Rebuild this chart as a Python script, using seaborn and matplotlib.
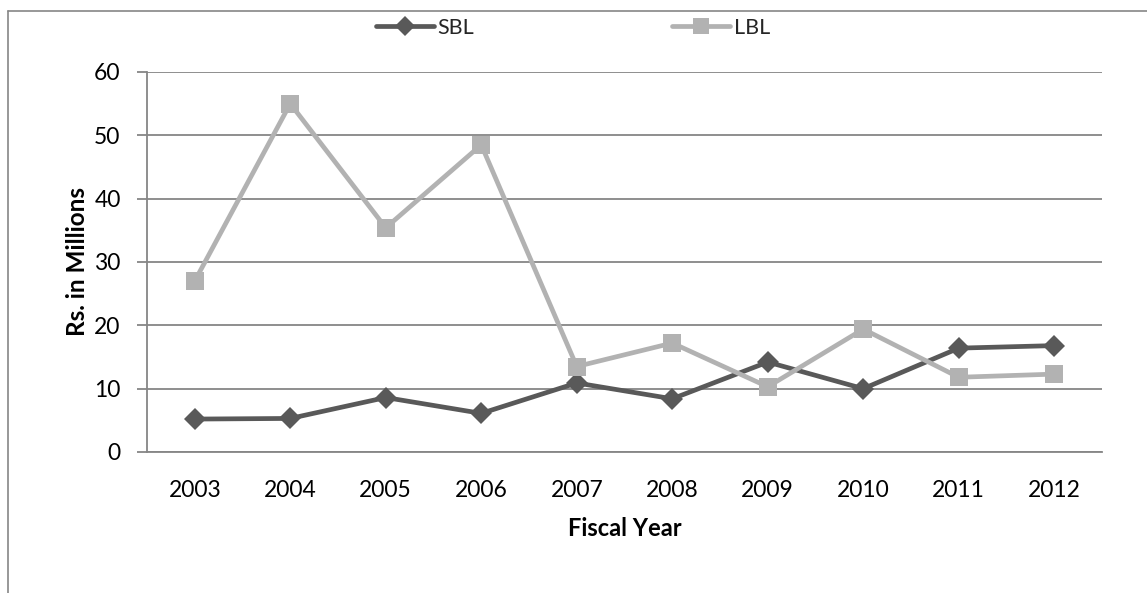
import matplotlib
matplotlib.use("Agg")
import matplotlib.pyplot as plt
from matplotlib.lines import Line2D
import seaborn as sns
import pandas as pd

years = ["2003", "2004", "2005", "2006", "2007", "2008", "2009", "2010", "2011", "2012"]
sbl = [5.2, 5.3, 8.6, 6.1, 10.9, 8.4, 14.2, 10.0, 16.4, 16.8]
lbl = [27.0, 55.0, 35.4, 48.5, 13.5, 17.2, 10.3, 19.4, 11.8, 12.3]
series_names = ["SBL", "LBL"]
y_ticks = [0, 10, 20, 30, 40, 50, 60]

df = pd.DataFrame({
    "Fiscal Year": years * 2,
    "value": sbl + lbl,
    "series": ["SBL"] * len(years) + ["LBL"] * len(years),
})

sns.set_theme(style="white")
plt.rcParams["font.family"] = ["Lato", "DejaVu Sans"]

W, H = 1147, 593
fig = plt.figure(figsize=(W / 100, H / 100), dpi=100)
ax = fig.add_axes([147 / W, 1 - 452 / H, (1102 - 147) / W, (452 - 72) / H])

grid_col = "#868686"
colors = {"SBL": "#595959", "LBL": "#b2b2b2"}
marker_sizes = {"SBL": 11, "LBL": 13}
marker_shapes = {"SBL": "D", "LBL": "s"}

sns.lineplot(
    data=df, x="Fiscal Year", y="value", hue="series", style="series",
    hue_order=series_names, style_order=series_names,
    palette=colors, markers=marker_shapes, dashes=False,
    linewidth=3.4, markersize=12, markeredgewidth=0, ax=ax, legend=False,
    sort=False,
)
# per-series marker size
for line, name in zip(ax.get_lines(), series_names):
    line.set_markersize(marker_sizes[name])

ax.set_xlim(-0.5, len(years) - 0.5)
ax.set_ylim(0, 60)
ax.set_yticks(y_ticks)
ax.yaxis.grid(True, color=grid_col, linewidth=1.3)
ax.set_axisbelow(True)
for side in ["top", "right"]:
    ax.spines[side].set_visible(False)
for side in ["left", "bottom"]:
    ax.spines[side].set_color(grid_col)
    ax.spines[side].set_linewidth(1.3)
ax.tick_params(axis="y", which="major", left=True, length=7, width=1.3,
               color=grid_col, labelsize=16.5, pad=12, labelcolor="black")
ax.tick_params(axis="x", bottom=False, labelsize=16.5, pad=14, labelcolor="black")

ax.set_xlabel("Fiscal Year", fontsize=17, fontweight="bold", labelpad=12, color="black")
ax.set_ylabel("Rs. in Millions", fontsize=17.5, fontweight="bold", labelpad=4, color="black")

handles = [
    Line2D([], [], color=colors[n], marker=marker_shapes[n], linewidth=3.4,
           markersize=marker_sizes[n] - 1, markeredgewidth=0)
    for n in series_names
]
fig.legend(handles, series_names, loc="center", bbox_to_anchor=(573 / W, 1 - 28 / H),
           ncol=2, frameon=False, fontsize=15.5, handlelength=2.7, handletextpad=0.15,
           columnspacing=9.2, borderaxespad=0)

# outer chart border (top and left edges)
fig.add_artist(Line2D([8 / W, 1], [1 - 11 / H, 1 - 11 / H], color=grid_col, linewidth=1.2,
                      transform=fig.transFigure))
fig.add_artist(Line2D([8 / W, 8 / W], [0, 1 - 11 / H], color=grid_col, linewidth=1.2,
                      transform=fig.transFigure))

fig.savefig("out.png", dpi=100)
